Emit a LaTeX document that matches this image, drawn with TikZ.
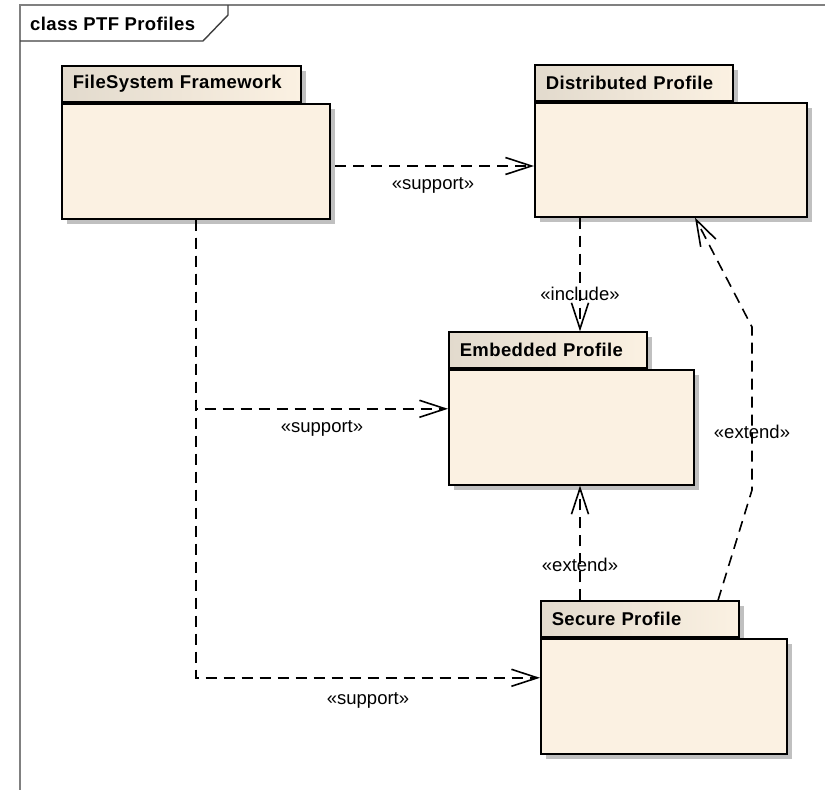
\documentclass[tikz,border=0pt]{standalone}
\usepackage{fontspec}
\setmainfont{Liberation Sans}
\newfontfamily\headfont{Liberation Sans}[LetterSpace=2]
\newfontfamily\labelfont{Liberation Sans}
\usetikzlibrary{arrows.meta,shadows,calc}

\definecolor{pkgfill}{RGB}{251,241,226}
\definecolor{pkgtabdark}{RGB}{226,218,205}
\definecolor{framegray}{RGB}{128,128,128}
\definecolor{shadowgray}{RGB}{192,192,192}

\tikzset{
  pkgshadow/.style={drop shadow={shadow xshift=5pt, shadow yshift=-5pt, fill=shadowgray, opacity=1}},
  pkgbody/.style={draw=black, line width=1.6pt, fill=pkgfill, pkgshadow,
    inner sep=0pt, anchor=north west},
  pkgtab/.style={draw=black, line width=1.6pt, left color=pkgtabdark, right color=pkgfill,
    pkgshadow, inner xsep=11pt, inner ysep=0pt, minimum height=36pt,
    anchor=south west, align=left,
    font={\headfont\bfseries\fontsize{18.5pt}{22pt}\selectfont}},
  dep/.style={draw=black, line width=1.6pt, dash pattern=on 11pt off 7pt,
    -{Straight Barb[length=26pt,width=17pt,line width=1.6pt]}},
  deplabel/.style={inner sep=0pt, font={\labelfont\fontsize{18.5pt}{22pt}\selectfont}},
  frametitle/.style={inner sep=0pt, anchor=west,
    font={\headfont\bfseries\fontsize{18.5pt}{22pt}\selectfont}}
}

\begin{document}
\begin{tikzpicture}[x=1pt,y=-1pt]
  \useasboundingbox (0,0) rectangle (825,790);
  \fill[white] (0,0) rectangle (825,790);

  % diagram frame and its name tab
  \draw[framegray, line width=1.6pt] (825,5) -- (20,5) -- (20,790);
  \draw[black!75, line width=1.4pt] (20,41) -- (203,41) -- (228,15) -- (228,5);
  \node[frametitle] (title) at (30,24) {class PTF Profiles};

  % packages: tab first, body on top of the tab's shadow
  \node[pkgtab, text width=217pt] (fst) at (61,103) {FileSystem Framework};
  \node[pkgbody, minimum width=268pt, minimum height=115pt] (fsb) at (61,103) {};

  \node[pkgtab, text width=176pt] (dpt) at (534,102) {Distributed Profile};
  \node[pkgbody, minimum width=272pt, minimum height=114pt] (dpb) at (534,102) {};

  \node[pkgtab, text width=176pt] (ept) at (448,369) {Embedded Profile};
  \node[pkgbody, minimum width=245pt, minimum height=115pt] (epb) at (448,369) {};

  \node[pkgtab, text width=176pt] (spt) at (540,638) {Secure Profile};
  \node[pkgbody, minimum width=246pt, minimum height=115pt] (spb) at (540,638) {};

  % helper coordinates for connector routes
  \coordinate (s1) at (335,166);
  \coordinate (incx) at (580,0);
  \coordinate (extx) at (718,0);
  \coordinate (endx) at (695,0);
  \coordinate (bend1) at (752,490);
  \coordinate (bend2) at (752,327);

  % dependencies
  \draw[dep] (s1) -- (s1 -| dpb.west);
  \draw[dep] (fsb.south) |- ($(epb.west)+(0,-18.5)$);
  \draw[dep] (fsb.south) |- ($(spb.west)+(0,-18.5)$);
  \draw[dep] (dpb.south -| incx) -- (ept.north -| incx);
  \draw[dep] (spt.north -| incx) -- (epb.south -| incx);
  \draw[dep] (spt.north -| extx) -- (bend1) -- (bend2) -- (dpb.south -| endx);

  % stereotype labels
  \node[deplabel] (l1) at (433,185) {«support»};
  \node[deplabel] (l2) at (322,428) {«support»};
  \node[deplabel] (l3) at (368,700) {«support»};
  \node[deplabel] (l4) at (580,294) {«include»};
  \node[deplabel] (l5) at (580,565) {«extend»};
  \node[deplabel] (l6) at (752,432) {«extend»};
\end{tikzpicture}
\end{document}
